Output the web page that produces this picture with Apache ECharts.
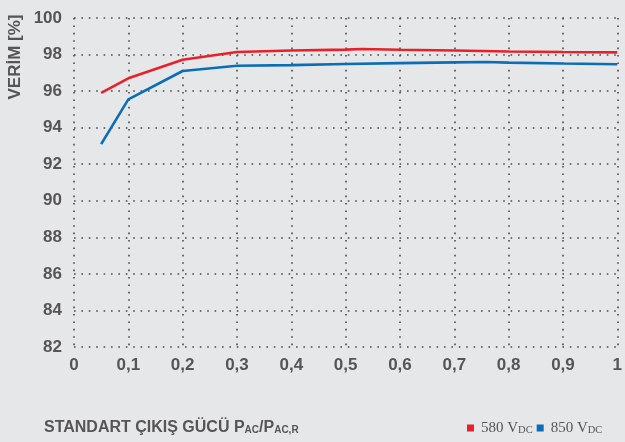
<!DOCTYPE html>
<html><head><meta charset="utf-8">
<script src="https://cdn.jsdelivr.net/npm/echarts@6/dist/echarts.min.js"></script>
<style>html,body{margin:0;padding:0;background:#e6e7e9}#c{width:625px;height:442px}</style>
</head><body><div id="c"></div>
<script>
const seriesNames = ['580 V', '850 V'];
const xValues580 = [0.05, 0.1, 0.2, 0.3, 0.4, 0.5, 0.53, 0.6, 0.7, 0.8, 0.9, 1.0];
const yValues580 = [95.9, 96.7, 97.72, 98.14, 98.22, 98.27, 98.3, 98.26, 98.22, 98.17, 98.14, 98.12];
const xValues850 = [0.05, 0.1, 0.2, 0.3, 0.4, 0.5, 0.6, 0.7, 0.76, 0.8, 0.9, 1.0];
const yValues850 = [93.1, 95.55, 97.1, 97.39, 97.42, 97.48, 97.53, 97.57, 97.59, 97.56, 97.51, 97.47];
const yAxisTitle = 'VERİM [%]';
const xAxisTitleParts = ['STANDART ÇIKIŞ GÜCÜ P', 'AC', '/P', 'AC,R'];

const pairs = (xs, ys) => xs.map((x, i) => [x, ys[i]]);
const gridLine = { show: true, lineStyle: { color: '#4a4a4a', width: 1.6, type: [1.6, 5.8] } };
const chart = echarts.init(document.getElementById('c'));
chart.setOption({
  backgroundColor: '#e6e7e9',
  animation: false,
  grid: { left: 74, right: 3, top: 18, bottom: 95, containLabel: false },
  xAxis: {
    type: 'value', min: 0, max: 1, interval: 0.1,
    axisLine: { show: false }, axisTick: { show: false },
    splitLine: gridLine,
    axisLabel: {
      margin: 10, color: '#555', fontFamily: 'Liberation Sans, Arial', fontWeight: 'bold', fontSize: 17,
      formatter: v => String(+(+v).toFixed(1)).replace('.', ','),
      showMinLabel: true, showMaxLabel: true
    }
  },
  yAxis: {
    type: 'value', min: 82, max: 100, interval: 2,
    axisLine: { show: false }, axisTick: { show: false },
    splitLine: gridLine,
    axisLabel: { margin: 12, color: '#555', fontFamily: 'Liberation Sans, Arial', fontWeight: 'bold', fontSize: 17 }
  },
  legend: {
    left: 462, top: 416, icon: 'rect', itemWidth: 7, itemHeight: 7, itemGap: 4,
    data: seriesNames,
    formatter: n => '{t|' + n + '}{s|DC}',
    textStyle: {
      color: '#555',
      rich: {
        t: { fontFamily: 'Liberation Serif, Times New Roman', fontSize: 15, color: '#555', padding: [0, 0, 0, 2], verticalAlign: 'bottom', lineHeight: 16 },
        s: { fontFamily: 'Liberation Serif, Times New Roman', fontSize: 10.5, color: '#555', verticalAlign: 'bottom', lineHeight: 13 }
      }
    }
  },
  graphic: [
    {
      type: 'text', x: 15, y: 57, rotation: Math.PI / 2,
      style: { text: yAxisTitle, x: 0, y: 0, align: 'center', verticalAlign: 'middle',
        fill: '#555', font: 'bold 17px "Liberation Sans", Arial' }
    },
    {
      type: 'text', x: 44, y: 427,
      style: {
        x: 0, y: 0, verticalAlign: 'middle', align: 'left',
        text: '{a|' + xAxisTitleParts[0] + '}{s|' + xAxisTitleParts[1] + '}{a|' + xAxisTitleParts[2] + '}{s|' + xAxisTitleParts[3] + '}',
        rich: {
          a: { fontFamily: 'Liberation Sans, Arial', fontWeight: 'bold', fontSize: 16, fill: '#555', verticalAlign: 'bottom', lineHeight: 17 },
          s: { fontFamily: 'Liberation Sans, Arial', fontWeight: 'bold', fontSize: 10, fill: '#555', verticalAlign: 'bottom', lineHeight: 7 }
        }
      }
    }
  ],
  series: [
    { name: seriesNames[0], type: 'line', data: pairs(xValues580, yValues580), showSymbol: false, color: '#e8202a', lineStyle: { width: 2.6 }, z: 3 },
    { name: seriesNames[1], type: 'line', data: pairs(xValues850, yValues850), showSymbol: false, color: '#0a6db5', lineStyle: { width: 2.6 }, z: 2 }
  ]
});
</script></body></html>
